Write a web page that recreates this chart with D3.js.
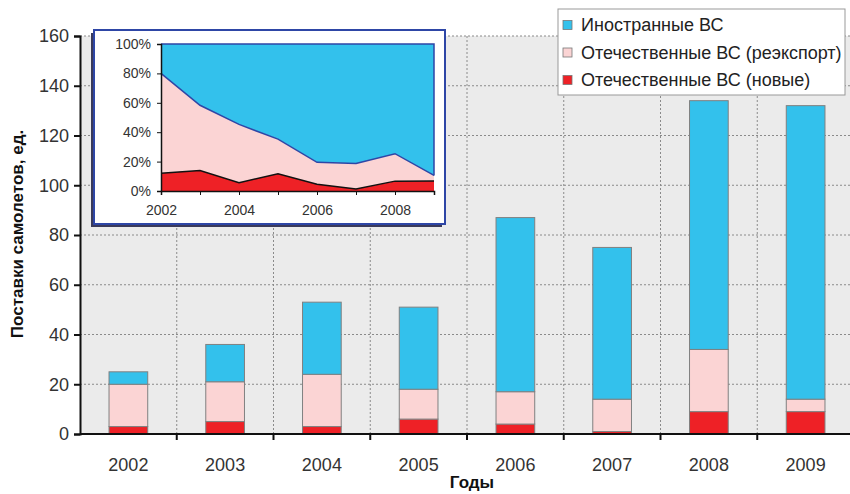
<!DOCTYPE html>
<html>
<head>
<meta charset="utf-8">
<script src="https://cdn.jsdelivr.net/npm/d3@7"></script>
<style>
  html, body { margin: 0; padding: 0; background: #fff; }
  svg { display: block; font-family: "Liberation Sans", Arial, sans-serif; }
</style>
</head>
<body>
<svg id="chart" width="850" height="494"></svg>
<script>
// Поставки самолетов по годам, ед.
const years = ["2002", "2003", "2004", "2005", "2006", "2007", "2008", "2009"];
const domesticNew = [3, 5, 3, 6, 4, 1, 9, 9];
const domesticReexport = [17, 16, 21, 12, 13, 13, 25, 5];
const foreign = [5, 15, 29, 33, 70, 61, 100, 118];

const seriesNames = ["Иностранные ВС", "Отечественные ВС (реэкспорт)", "Отечественные ВС (новые)"];
const yTicks = [0, 20, 40, 60, 80, 100, 120, 140, 160];
const insetYTicks = [0, 0.2, 0.4, 0.6, 0.8, 1];
const insetXTicks = [2002, 2004, 2006, 2008];

const colors = { foreign: "#33c1ec", reexport: "#fbd4d4", fresh: "#ee2126" };

const svg = d3.select("#chart");

// ---- main plot frame
const plot = { left: 80, right: 854, top: 36, bottom: 434 };

const x = d3.scaleBand().domain(years).range([plot.left, plot.right])
  .paddingInner(0.6).paddingOuter(0.3);
const y = d3.scaleLinear().domain([0, 160]).range([plot.bottom, plot.top]);

svg.append("rect")
  .attr("x", plot.left).attr("y", plot.top)
  .attr("width", plot.right - plot.left).attr("height", plot.bottom - plot.top)
  .attr("fill", "#ebebeb");

// horizontal grid
svg.append("g").selectAll("line").data(yTicks.filter(d => d > 0)).join("line")
  .attr("x1", plot.left).attr("x2", plot.right)
  .attr("y1", d => y(d)).attr("y2", d => y(d))
  .attr("stroke", "#8a8a8a").attr("stroke-width", 1).attr("stroke-dasharray", "2,2");

// vertical grid at category boundaries
const boundaries = years.slice(1).map(d => x(d) - x.step() * x.paddingOuter());
svg.append("g").selectAll("line").data(boundaries).join("line")
  .attr("x1", d => d).attr("x2", d => d)
  .attr("y1", plot.top).attr("y2", plot.bottom)
  .attr("stroke", "#8a8a8a").attr("stroke-width", 1).attr("stroke-dasharray", "2,2");

// stacked bars
const rows = years.map((yr, i) => ({ year: yr, fresh: domesticNew[i], reexport: domesticReexport[i], foreign: foreign[i] }));
const stack = d3.stack().keys(["fresh", "reexport", "foreign"]);
const layers = stack(rows);

svg.append("g").selectAll("g").data(layers).join("g")
  .attr("fill", d => colors[d.key])
  .selectAll("rect").data(d => d).join("rect")
  .attr("x", d => x(d.data.year))
  .attr("width", x.bandwidth())
  .attr("y", d => y(d[1]))
  .attr("height", d => y(d[0]) - y(d[1]))
  .attr("stroke", "#808080").attr("stroke-width", 1);

// y axis
const yAxis = svg.append("g").attr("transform", `translate(${plot.left},0)`)
  .call(d3.axisLeft(y).tickValues(yTicks).tickSize(6).tickPadding(5).tickFormat(d3.format("d")));
yAxis.select(".domain").attr("stroke", "#111").attr("stroke-width", 2);
yAxis.selectAll(".tick line").attr("stroke", "#111").attr("stroke-width", 2);
yAxis.selectAll("text").attr("font-size", 18).attr("fill", "#333").attr("font-family", "Liberation Sans, Arial, sans-serif");

// x axis
const xAxisG = svg.append("g").attr("transform", `translate(0,${plot.bottom})`);
xAxisG.append("line").attr("x1", plot.left).attr("x2", plot.right).attr("y1", 0).attr("y2", 0)
  .attr("stroke", "#111").attr("stroke-width", 2);
xAxisG.selectAll("line.tk").data(boundaries).join("line").attr("class", "tk")
  .attr("x1", d => d).attr("x2", d => d).attr("y1", 0).attr("y2", 6)
  .attr("stroke", "#111").attr("stroke-width", 2);
xAxisG.selectAll("text").data(years).join("text")
  .attr("x", d => x(d) + x.bandwidth() / 2).attr("y", 37)
  .attr("text-anchor", "middle").attr("font-size", 18).attr("fill", "#333")
  .text(d => d);

// axis titles
svg.append("text")
  .attr("transform", "translate(23,234) rotate(-90)")
  .attr("text-anchor", "middle").attr("font-size", 17).attr("font-weight", "bold").attr("fill", "#111")
  .text("Поставки самолетов, ед.");
svg.append("text")
  .attr("x", 472).attr("y", 488)
  .attr("text-anchor", "middle").attr("font-size", 17).attr("font-weight", "bold").attr("fill", "#111")
  .text("Годы");

// ---- inset: shares by type
const box = { x: 94, y: 30, w: 351, h: 194 };
svg.append("rect").attr("x", box.x - 3).attr("y", box.y + 3).attr("width", box.w).attr("height", box.h)
  .attr("fill", "#3a3a5a");
svg.append("rect").attr("x", box.x).attr("y", box.y).attr("width", box.w).attr("height", box.h)
  .attr("fill", "#fff").attr("stroke", "#2e46a6").attr("stroke-width", 2);

const ix = d3.scaleLinear().domain([2002, 2009]).range([161, 434]);
const iy = d3.scaleLinear().domain([0, 1]).range([191, 44]);

const shares = rows.map(r => {
  const total = r.fresh + r.reexport + r.foreign;
  return { year: +r.year, fresh: r.fresh / total, domestic: (r.fresh + r.reexport) / total };
});

const inset = svg.append("g");
inset.append("path").datum(shares)
  .attr("fill", colors.foreign)
  .attr("d", d3.area().x(d => ix(d.year)).y0(d => iy(d.domestic)).y1(() => iy(1)));
inset.append("path").datum(shares)
  .attr("fill", colors.reexport)
  .attr("d", d3.area().x(d => ix(d.year)).y0(d => iy(d.fresh)).y1(d => iy(d.domestic)));
inset.append("path").datum(shares)
  .attr("fill", colors.fresh)
  .attr("d", d3.area().x(d => ix(d.year)).y0(() => iy(0)).y1(d => iy(d.fresh)));

// boundary lines
inset.append("path").datum(shares).attr("fill", "none").attr("stroke", "#2e46a6").attr("stroke-width", 1.5)
  .attr("d", d3.line().x(d => ix(d.year)).y(d => iy(d.domestic)));
inset.append("path").datum(shares).attr("fill", "none").attr("stroke", "#111").attr("stroke-width", 1.5)
  .attr("d", d3.line().x(d => ix(d.year)).y(d => iy(d.fresh)));
inset.append("path").attr("fill", "none").attr("stroke", "#2e46a6").attr("stroke-width", 1.5)
  .attr("d", `M${ix(2002)},${iy(1)}H${ix(2009)}V${iy(shares[shares.length - 1].domestic)}`);

const iyAxis = inset.append("g").attr("transform", `translate(${ix(2002)},0)`)
  .call(d3.axisLeft(iy).tickValues(insetYTicks).tickSize(4).tickPadding(6).tickFormat(d3.format(".0%")));
iyAxis.select(".domain").attr("stroke", "#111").attr("stroke-width", 1.5);
iyAxis.selectAll(".tick line").attr("stroke", "#111");
iyAxis.selectAll("text").attr("font-size", 14).attr("fill", "#333").attr("font-family", "Liberation Sans, Arial, sans-serif");

const ixAxis = inset.append("g").attr("transform", `translate(0,${iy(0)})`)
  .call(d3.axisBottom(ix).tickValues(d3.range(2002, 2010)).tickSize(4).tickPadding(10)
    .tickFormat(d => insetXTicks.includes(d) ? String(d) : ""));
ixAxis.select(".domain").attr("stroke", "#111").attr("stroke-width", 1.5);
ixAxis.selectAll(".tick line").attr("stroke", "#111");
ixAxis.selectAll("text").attr("font-size", 14).attr("fill", "#333").attr("font-family", "Liberation Sans, Arial, sans-serif");

// ---- legend
const legend = svg.append("g");
legend.append("rect").attr("x", 558).attr("y", 9).attr("width", 287).attr("height", 86)
  .attr("fill", "#fff").attr("stroke", "#999").attr("stroke-width", 1);
const legendColors = [colors.foreign, colors.reexport, colors.fresh];
const items = legend.selectAll("g").data(seriesNames).join("g")
  .attr("transform", (d, i) => `translate(563,${25 + i * 27.5})`);
items.append("rect").attr("x", 0).attr("y", -4.5).attr("width", 9).attr("height", 9)
  .attr("fill", (d, i) => legendColors[i]).attr("stroke", "#777").attr("stroke-width", 0.8);
items.append("text").attr("x", 18).attr("y", 6).attr("font-size", 18).attr("fill", "#222")
  .text(d => d);
</script>
</body>
</html>
